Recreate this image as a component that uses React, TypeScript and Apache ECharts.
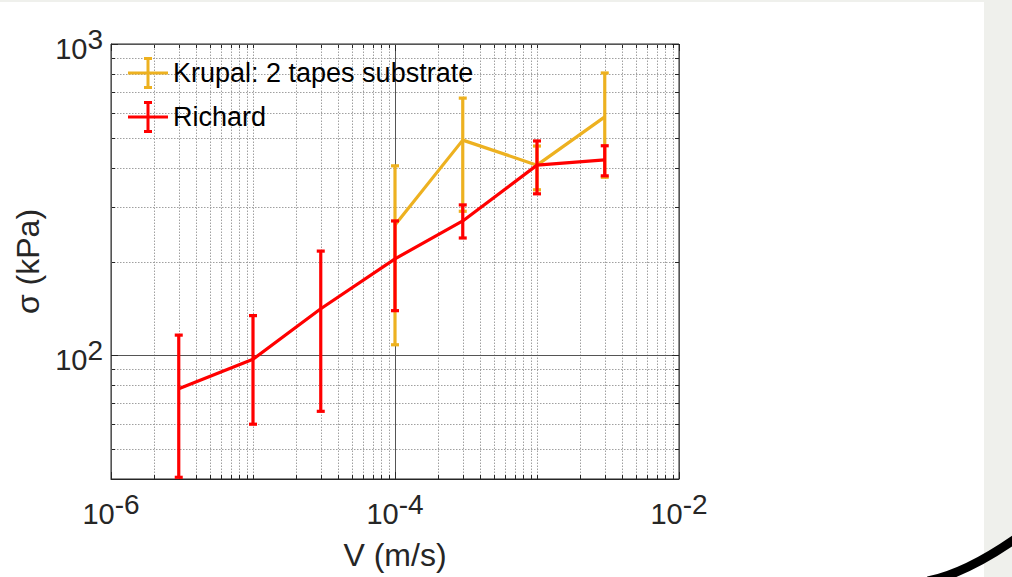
import React, { useEffect, useRef } from 'react';
import * as echarts from 'echarts';

// ---- axes ----
const X_MIN = 1e-6;
const X_MAX = 1e-2;
const Y_MIN = 40;
const Y_MAX = 1000;
const xMajorTicks = [1e-6, 1e-4, 1e-2];
const yMajorTicks = [100, 1000];
const xMinorTicks = [
  2e-6, 3e-6, 4e-6, 5e-6, 6e-6, 7e-6, 8e-6, 9e-6,
  1e-5, 2e-5, 3e-5, 4e-5, 5e-5, 6e-5, 7e-5, 8e-5, 9e-5,
  2e-4, 3e-4, 4e-4, 5e-4, 6e-4, 7e-4, 8e-4, 9e-4,
  1e-3, 2e-3, 3e-3, 4e-3, 5e-3, 6e-3, 7e-3, 8e-3, 9e-3,
];
const yMinorTicks = [50, 60, 70, 80, 90, 200, 300, 400, 500, 600, 700, 800, 900];

// ---- data ----
const krupalName = 'Krupal: 2 tapes substrate';
const krupalV = [1e-4, 3e-4, 1e-3, 3e-3];
const krupalSigma = [262, 491, 408, 583];
const krupalLow = [108, 290, 340, 373];
const krupalHigh = [406, 670, 470, 807];

const richardName = 'Richard';
const richardV = [3e-6, 1e-5, 3e-5, 1e-4, 3e-4, 1e-3, 3e-3];
const richardSigma = [78, 97, 141, 204, 270, 408, 424];
const richardLow = [40.5, 60, 66, 139, 238, 330, 377];
const richardHigh = [116, 134, 216, 270, 304, 488, 471];

const KRUPAL_COLOR = '#EDB120';
const RICHARD_COLOR = '#FF0000';
const AXIS_COLOR = '#262626';
const FONT = 'Liberation Sans, Arial, Helvetica, sans-serif';

const LEGEND_ICON =
  'path://M0,14.5h40v3h-40z M18.5,0h3v32h-3z M16,0h8v3h-8z M16,29h8v3h-8z';

const snap = (v: number) => Math.round(v) + 0.5;

function logLabel(isX: boolean) {
  return (v: number) => {
    const e = Math.log10(v);
    const r = Math.round(e);
    if (Math.abs(e - r) > 1e-6) return '';
    if (isX && Math.abs(r) % 2 === 1) return '';
    return `{b|10}{s|${r}}`;
  };
}

const richStyles = {
  b: { fontSize: 29, fontFamily: FONT, color: AXIS_COLOR, verticalAlign: 'bottom' },
  s: { fontSize: 28, fontFamily: FONT, color: AXIS_COLOR, verticalAlign: 'bottom', padding: [0, 0, 10, 0] },
};

const MINOR_STYLE = { stroke: '#a0a0a0', lineWidth: 1, lineDash: [1.5, 1.5] };
const MAJOR_STYLE = { stroke: '#555555', lineWidth: 1 };

function xGridSeries(values: number[], major: boolean) {
  return {
    type: 'custom',
    silent: true,
    z: 1,
    data: values.map((v) => [v, Y_MIN]),
    encode: { x: 0, y: 1 },
    renderItem: (_p: any, api: any) => {
      const v = api.value(0);
      const pb = api.coord([v, Y_MIN]);
      const pt = api.coord([v, Y_MAX]);
      const x = snap(pb[0]);
      const tl = major ? 7 : 4;
      return {
        type: 'group',
        children: [
          { type: 'line', shape: { x1: x, y1: pb[1], x2: x, y2: pt[1] }, style: major ? MAJOR_STYLE : MINOR_STYLE },
          { type: 'line', shape: { x1: x, y1: pb[1], x2: x, y2: pb[1] - tl }, style: { stroke: AXIS_COLOR, lineWidth: 1 } },
          { type: 'line', shape: { x1: x, y1: pt[1], x2: x, y2: pt[1] + tl }, style: { stroke: AXIS_COLOR, lineWidth: 1 } },
        ],
      };
    },
  };
}

function yGridSeries(values: number[], major: boolean) {
  return {
    type: 'custom',
    silent: true,
    z: 1,
    data: values.map((v) => [X_MIN, v]),
    encode: { x: 0, y: 1 },
    renderItem: (_p: any, api: any) => {
      const v = api.value(1);
      const pl = api.coord([X_MIN, v]);
      const pr = api.coord([X_MAX, v]);
      const y = snap(pl[1]);
      const tl = major ? 7 : 4;
      return {
        type: 'group',
        children: [
          { type: 'line', shape: { x1: pl[0], y1: y, x2: pr[0], y2: y }, style: major ? MAJOR_STYLE : MINOR_STYLE },
          { type: 'line', shape: { x1: pl[0], y1: y, x2: pl[0] + tl, y2: y }, style: { stroke: AXIS_COLOR, lineWidth: 1 } },
          { type: 'line', shape: { x1: pr[0], y1: y, x2: pr[0] - tl, y2: y }, style: { stroke: AXIS_COLOR, lineWidth: 1 } },
        ],
      };
    },
  };
}

function errorSeries(name: string, xs: number[], lo: number[], hi: number[], color: string, z: number) {
  return {
    type: 'custom',
    name,
    silent: true,
    z,
    data: xs.map((x, i) => [x, lo[i], hi[i]]),
    encode: { x: 0, y: [1, 2] },
    renderItem: (_p: any, api: any) => {
      const x = api.value(0);
      const a = api.coord([x, api.value(1)]);
      const b = api.coord([x, api.value(2)]);
      const cx = a[0];
      const st = { stroke: color, lineWidth: 3.2 };
      return {
        type: 'group',
        children: [
          { type: 'line', shape: { x1: cx, y1: a[1], x2: cx, y2: b[1] }, style: st },
          { type: 'line', shape: { x1: cx - 4, y1: a[1], x2: cx + 4, y2: a[1] }, style: st },
          { type: 'line', shape: { x1: cx - 4, y1: b[1], x2: cx + 4, y2: b[1] }, style: st },
        ],
      };
    },
  };
}

function lineSeries(name: string, xs: number[], ys: number[], color: string, z: number) {
  return {
    type: 'line',
    name,
    z,
    symbol: 'none',
    silent: true,
    lineStyle: { color, width: 3.2 },
    itemStyle: { color },
    data: xs.map((x, i) => [x, ys[i]]),
  };
}

export default function App() {
  const ref = useRef<HTMLDivElement>(null);
  useEffect(() => {
    if (!ref.current) return;
    const chart = echarts.init(ref.current, undefined, { renderer: 'svg' });
    const option: any = {
      animation: false,
      backgroundColor: '#ffffff',
      grid: {
        left: 111,
        top: 44,
        width: 568,
        height: 435,
        show: true,
        borderColor: AXIS_COLOR,
        borderWidth: 1,
        backgroundColor: 'transparent',
      },
      legend: {
        orient: 'vertical',
        left: 128,
        top: 57,
        padding: 0,
        itemWidth: 40,
        itemHeight: 32,
        itemGap: 12,
        selectedMode: false,
        textStyle: { fontSize: 27, fontFamily: FONT, color: '#000000' },
        data: [
          { name: krupalName, icon: LEGEND_ICON, itemStyle: { color: KRUPAL_COLOR } },
          { name: richardName, icon: LEGEND_ICON, itemStyle: { color: RICHARD_COLOR } },
        ],
      },
      xAxis: {
        type: 'log',
        logBase: 10,
        min: X_MIN,
        max: X_MAX,
        name: 'V (m/s)',
        nameLocation: 'middle',
        nameGap: 60,
        nameTextStyle: { fontSize: 32, fontFamily: FONT, color: AXIS_COLOR },
        axisLine: { show: true, lineStyle: { color: AXIS_COLOR, width: 1 } },
        axisTick: { show: false },
        splitLine: { show: false },
        minorTick: { show: false },
        axisLabel: {
          margin: 11,
          formatter: logLabel(true),
          rich: richStyles,
          showMinLabel: true,
          showMaxLabel: true,
          hideOverlap: false,
        },
      },
      yAxis: {
        type: 'log',
        logBase: 10,
        min: Y_MIN,
        max: Y_MAX,
        name: 'σ (kPa)',
        nameLocation: 'middle',
        nameGap: 54,
        nameTextStyle: { fontSize: 32, fontFamily: FONT, color: AXIS_COLOR },
        axisLine: { show: true, lineStyle: { color: AXIS_COLOR, width: 1 } },
        axisTick: { show: false },
        splitLine: { show: false },
        minorTick: { show: false },
        axisLabel: {
          margin: 8,
          formatter: logLabel(false),
          rich: richStyles,
          showMinLabel: true,
          showMaxLabel: true,
          hideOverlap: false,
        },
      },
      graphic: [
        { type: 'rect', silent: true, shape: { x: 984, y: 0, width: 28, height: 577 }, style: { fill: '#EFF0EC' }, z: 0 },
        { type: 'rect', silent: true, shape: { x: 0, y: 0, width: 984, height: 2 }, style: { fill: '#EFF0EC' }, z: 0 },
        {
          type: 'bezierCurve',
          silent: true,
          shape: { x1: 928, y1: 581, cpx1: 967, cpy1: 573, x2: 1018, y2: 537 },
          style: { stroke: '#000000', lineWidth: 9, fill: 'none' },
          z: 10,
        },
      ],
      series: [
        xGridSeries(xMinorTicks, false),
        yGridSeries(yMinorTicks, false),
        xGridSeries(xMajorTicks, true),
        yGridSeries(yMajorTicks, true),
        errorSeries(krupalName, krupalV, krupalLow, krupalHigh, KRUPAL_COLOR, 2),
        lineSeries(krupalName, krupalV, krupalSigma, KRUPAL_COLOR, 2),
        errorSeries(richardName, richardV, richardLow, richardHigh, RICHARD_COLOR, 3),
        lineSeries(richardName, richardV, richardSigma, RICHARD_COLOR, 3),
      ],
    };
    chart.setOption(option);
    return () => chart.dispose();
  }, []);
  return (
    <div
      ref={ref}
      style={{ position: 'fixed', left: 0, top: 0, width: 1012, height: 577, background: '#ffffff' }}
    />
  );
}
